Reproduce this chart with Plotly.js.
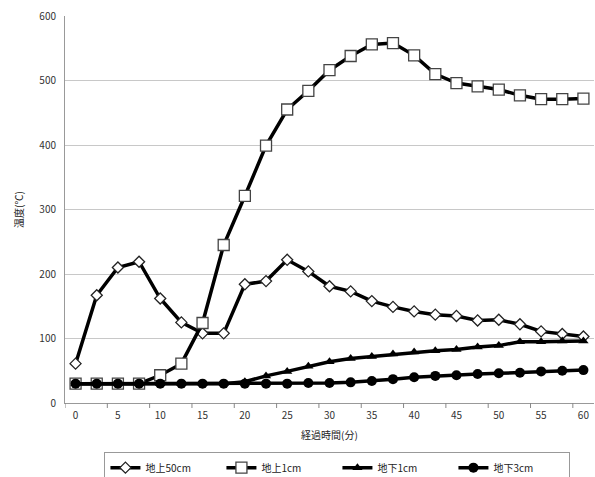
<!DOCTYPE html>
<html>
<head>
<meta charset="utf-8">
<script src="https://cdn.plot.ly/plotly-3.0.1.min.js"></script>
<style>html,body{margin:0;padding:0;background:#fff;}#chart{width:595px;height:477px;}</style>
</head>
<body>
<div id="chart"></div>
<script>
// elapsed time (minutes), one sample every 2.5 min
const minutes = [0,2.5,5,7.5,10,12.5,15,17.5,20,22.5,25,27.5,30,32.5,35,37.5,40,42.5,45,47.5,50,52.5,55,57.5,60];
const tickLabels = [0,5,10,15,20,25,30,35,40,45,50,55,60];
const seriesNames = ["地上50cm","地上1cm","地下1cm","地下3cm"];
const above50cm = [61,167,210,219,162,125,108,108,184,189,222,204,181,173,158,149,142,137,135,128,129,122,111,107,103];
const above1cm  = [30,30,30,30,43,61,124,245,321,399,455,484,516,538,556,558,539,510,496,491,486,477,471,471,472];
const below1cm  = [30,30,30,30,30,30,30,30,33,42,49,57,64,69,72,76,79,81,83,87,89,95,95,96,96];
const below3cm  = [30,30,30,30,30,30,30,30,30,30,30,31,31,32,34,37,40,42,43,45,46,47,49,50,51];

const FONT = '"Noto Sans CJK JP", "Noto Sans", sans-serif';
const lineStyle = {color:'#000', width:3.5};
const halfStep = (minutes[1] - minutes[0]) / 2;

const traces = [
  {x:minutes, y:above50cm, name:seriesNames[0], mode:'lines+markers', line:lineStyle,
   marker:{symbol:'diamond', size:8.5, color:'#fff', line:{color:'#222', width:1.3}}},
  {x:minutes, y:above1cm, name:seriesNames[1], mode:'lines+markers', line:lineStyle,
   marker:{symbol:'square', size:11, color:'#fff', line:{color:'#444', width:1.3}}},
  {x:minutes, y:below1cm, name:seriesNames[2], mode:'lines+markers', line:lineStyle,
   marker:{symbol:'triangle-up', size:9, color:'#000'}},
  {x:minutes, y:below3cm, name:seriesNames[3], mode:'lines+markers', line:lineStyle,
   marker:{symbol:'circle', size:10, color:'#000'}}
];

// Excel-style category-boundary tick marks (between samples, every other boundary)
const boundaryTicks = tickLabels.map(v => ({
  type:'line', xref:'x', yref:'paper', ysizemode:'pixel', yanchor:0,
  x0:v - halfStep, x1:v - halfStep, y0:0, y1:-5,
  line:{color:'#888', width:1}, layer:'above'
}));

const layout = {
  width:595, height:477,
  margin:{l:65, r:1, t:16, b:74, autoexpand:false},
  paper_bgcolor:'#fff', plot_bgcolor:'#fff',
  font:{family:FONT, size:10, color:'#333'},
  showlegend:true,
  legend:{orientation:'h', x:0.515, xanchor:'center', y:-0.127, yanchor:'top',
    bordercolor:'#999', borderwidth:1, bgcolor:'#fff', font:{family:FONT, size:10, color:'#222'},
    entrywidth:71, entrywidthmode:'pixels', traceorder:'normal'},
  xaxis:{range:[minutes[0]-halfStep, minutes[minutes.length-1]+halfStep], tickmode:'array', tickvals:tickLabels,
    ticktext:tickLabels.map(String),
    ticks:'outside', ticklen:2, tickcolor:'rgba(0,0,0,0)', tickwidth:1,
    showgrid:false, zeroline:false, showline:true, linecolor:'#999', linewidth:1,
    ticklabelstandoff:1, tickfont:{family:FONT, size:10, color:'#333'},
    title:{text:'経過時間(分)', standoff:10, font:{family:FONT, size:10, color:'#222'}}},
  yaxis:{range:[0,600], tickmode:'array', tickvals:[0,100,200,300,400,500,600],
    ticks:'', showgrid:true, gridcolor:'#c8c8c8', gridwidth:1, zeroline:false,
    showline:true, linecolor:'#999', linewidth:1, ticklabelstandoff:6,
    tickfont:{family:FONT, size:10, color:'#333'},
    title:{text:'温度(℃)', standoff:13, font:{family:FONT, size:10, color:'#222'}}},
  shapes: boundaryTicks
};

Plotly.newPlot('chart', traces, layout, {displayModeBar:false, staticPlot:true});
</script>
</body>
</html>
